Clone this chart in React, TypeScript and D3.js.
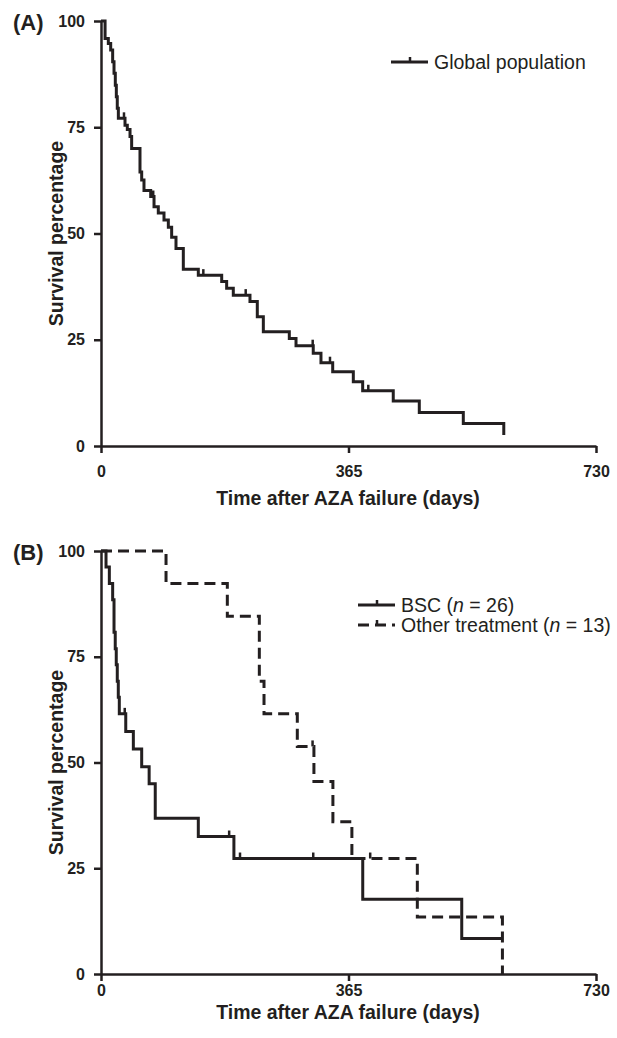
import React, { useEffect, useRef } from 'react';
import * as d3 from 'd3';

const FONT = "'Liberation Sans', Arial, Helvetica, sans-serif";
const INK = '#231f20';

const xTicks = [0, 365, 730];
const yTicks = [0, 25, 50, 75, 100];

// (A) global population, days after AZA failure / survival %
const globalDays = [0, 6, 10.8, 14.3, 17.2, 19.2, 21.1, 22.6, 24, 25.6, 35.4, 38.8, 42.8, 45.2, 57.5, 60, 63.4, 73.3, 78.2, 84.5, 92.9, 99.3, 104.2, 110.6, 121.4, 143.5, 178, 185.3, 195.1, 219.7, 230.5, 239.4, 277.7, 287.6, 313, 324.4, 341.7, 372.1, 385.9, 431, 469.4, 534.3, 594];
const globalSurv = [100, 95.9, 94.7, 93.2, 90.4, 87.7, 84.9, 82.2, 79.5, 77.1, 75.5, 74.5, 72.8, 70, 64.5, 62.6, 60.1, 58.7, 56.3, 54.8, 53.2, 51.5, 49.1, 46.5, 41.6, 40.2, 38.7, 37.1, 35.5, 34, 30.4, 26.9, 25.3, 23.6, 21.8, 19.6, 17.5, 15.1, 13, 10.6, 7.9, 5.3, 2.6];
const globalCensorDays = [33.9, 77, 150.9, 213.4, 312.2, 337.7, 394.2];
const globalCensorSurv = [77.1, 58.7, 40.2, 35.5, 23.6, 19.6, 13];

// (B) BSC
const bscDays = [0, 7.4, 12.3, 17.2, 19.2, 21, 22.5, 24, 25.5, 27, 36.5, 47.7, 60, 71, 80, 143.5, 196, 386, 532, 592];
const bscSurv = [100, 96.2, 92.3, 88.5, 80.8, 76.9, 73.1, 69.2, 65.4, 61.5, 57.3, 53.2, 49, 45, 36.8, 32.5, 27.3, 17.7, 8.4, 8.4];
const bscCensorDays = [35, 189, 205, 313];
const bscCensorSurv = [61.5, 32.5, 27.3, 27.3];

// (B) other treatment
const otherDays = [0, 95.9, 186.3, 233.5, 240.4, 289.5, 314, 342, 370, 466.5, 592];
const otherSurv = [100, 92.3, 84.6, 69.2, 61.5, 53.8, 45.5, 36, 27.3, 13.5, 0];
const otherCensorDays = [312, 397];
const otherCensorSurv = [53.8, 27.3];

function drawPanel(svg, p) {
  const x = d3.scaleLinear().domain([0, 730]).range([101, 596]);
  const y = d3.scaleLinear().domain([0, 100]).range([p.bottom, p.top]);
  const g = svg.append('g');

  const line = d3.line()
    .x(d => x(d[0]))
    .y(d => y(d[1]))
    .curve(d3.curveStepAfter);

  // curves + censor marks
  p.curves.forEach(c => {
    const pts = c.days.map((d, i) => [d, c.surv[i]]);
    g.append('path')
      .attr('d', line(pts))
      .attr('fill', 'none')
      .attr('stroke', INK)
      .attr('stroke-width', 3)
      .attr('stroke-dasharray', c.dash)
      .attr('stroke-linejoin', 'miter');
    g.selectAll(null)
      .data(c.cDays.map((d, i) => [d, c.cSurv[i]]))
      .enter()
      .append('line')
      .attr('x1', d => x(d[0])).attr('x2', d => x(d[0]))
      .attr('y1', d => y(d[1])).attr('y2', d => y(d[1]) - 6)
      .attr('stroke', INK)
      .attr('stroke-width', 2.5);
  });

  // axes
  const ax = g.append('g')
    .attr('transform', `translate(0,${p.bottom})`)
    .call(d3.axisBottom(x).tickValues(xTicks).tickSize(7).tickSizeOuter(0).tickPadding(p.xPad));
  const ay = g.append('g')
    .attr('transform', 'translate(101,0)')
    .call(d3.axisLeft(y).tickValues(yTicks).tickSize(7).tickSizeOuter(0).tickPadding(9));
  [ax, ay].forEach(a => {
    a.attr('font-family', FONT).attr('font-size', 16).attr('font-weight', 'bold');
    a.selectAll('path, line').attr('stroke', INK).attr('stroke-width', 2.5);
    a.selectAll('text').attr('fill', INK);
  });

  // titles
  g.append('text')
    .attr('x', 348).attr('y', p.xTitleY)
    .attr('text-anchor', 'middle')
    .attr('font-family', FONT).attr('font-size', 19.5).attr('font-weight', 'bold')
    .attr('fill', INK)
    .text('Time after AZA failure (days)');
  const mid = (p.top + p.bottom) / 2;
  g.append('text')
    .attr('transform', `translate(63,${mid}) rotate(-90)`)
    .attr('text-anchor', 'middle')
    .attr('font-family', FONT).attr('font-size', 19.5).attr('font-weight', 'bold')
    .attr('fill', INK)
    .text('Survival percentage');
  g.append('text')
    .attr('x', 13).attr('y', p.top + 9)
    .attr('font-family', FONT).attr('font-size', 22).attr('font-weight', 'bold')
    .attr('fill', INK)
    .text(p.label);

  // legend
  p.legend.forEach(l => {
    g.append('line')
      .attr('x1', l.x).attr('x2', l.x + 37)
      .attr('y1', l.y).attr('y2', l.y)
      .attr('stroke', INK).attr('stroke-width', 3)
      .attr('stroke-dasharray', l.dash);
    g.append('line')
      .attr('x1', l.x + 19).attr('x2', l.x + 19)
      .attr('y1', l.y).attr('y2', l.y - 5)
      .attr('stroke', INK).attr('stroke-width', 2.5);
    const t = g.append('text')
      .attr('x', l.x + 43).attr('y', l.y + 6.5)
      .attr('font-family', FONT).attr('font-size', 19.5)
      .attr('fill', INK);
    l.parts.forEach(part => {
      t.append('tspan')
        .attr('font-style', part.italic ? 'italic' : 'normal')
        .text(part.text);
    });
  });
}

export default function App() {
  const ref = useRef(null);

  useEffect(() => {
    const svg = d3.select(ref.current);
    svg.selectAll('*').remove();

    drawPanel(svg, {
      label: '(A)',
      top: 21,
      bottom: 446,
      xPad: 12.5,
      xTitleY: 505,
      curves: [
        { days: globalDays, surv: globalSurv, cDays: globalCensorDays, cSurv: globalCensorSurv, dash: null },
      ],
      legend: [
        { x: 391, y: 62, dash: null, parts: [{ text: 'Global population' }] },
      ],
    });

    drawPanel(svg, {
      label: '(B)',
      top: 551,
      bottom: 974,
      xPad: 3.5,
      xTitleY: 1019,
      curves: [
        { days: bscDays, surv: bscSurv, cDays: bscCensorDays, cSurv: bscCensorSurv, dash: null },
        { days: otherDays, surv: otherSurv, cDays: otherCensorDays, cSurv: otherCensorSurv, dash: '11,6' },
      ],
      legend: [
        { x: 358, y: 605, dash: null, parts: [{ text: 'BSC (' }, { text: 'n', italic: true }, { text: ' = 26)' }] },
        { x: 358, y: 625, dash: '11,6', parts: [{ text: 'Other treatment (' }, { text: 'n', italic: true }, { text: ' = 13)' }] },
      ],
    });
  }, []);

  return (
    <svg
      ref={ref}
      width={617}
      height={1038}
      style={{ position: 'absolute', left: 0, top: 0, background: '#fff' }}
    />
  );
}
